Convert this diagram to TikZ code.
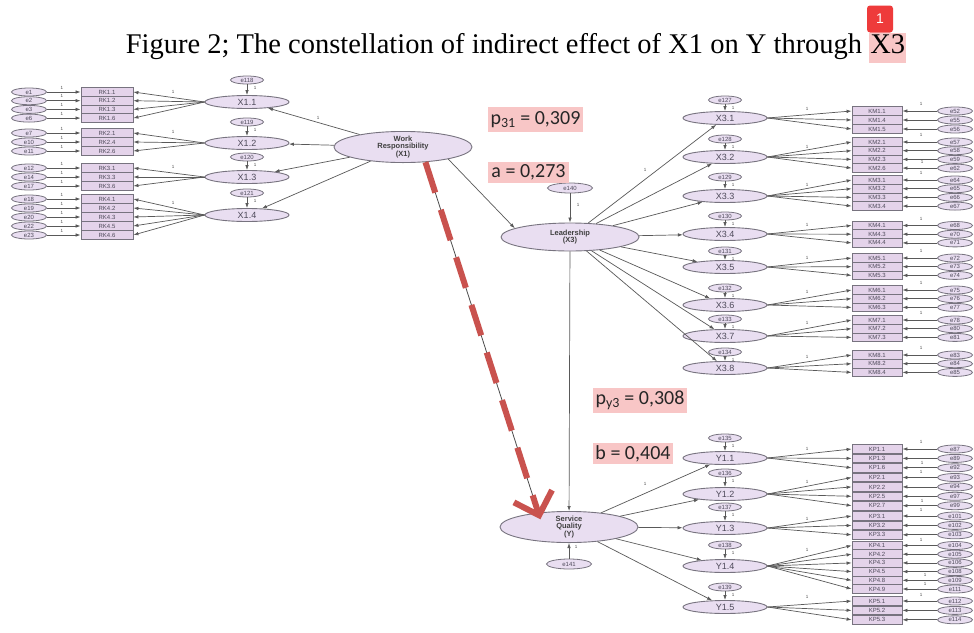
\documentclass[tikz,border=0pt]{standalone}
\usepackage{fontspec}
\setmainfont{Liberation Serif}
\setsansfont{Liberation Sans}
\newfontfamily\calib{Carlito}
\usetikzlibrary{shapes.geometric,arrows.meta,calc}
\definecolor{lavfill}{HTML}{E9DEF1}
\definecolor{boxfill}{HTML}{E4D3EA}
\definecolor{edgegray}{HTML}{77737F}
\definecolor{txtgray}{HTML}{4E4A5A}
\definecolor{pinkhl}{HTML}{F8C6C6}
\definecolor{reddash}{HTML}{C9524E}
\definecolor{badge}{HTML}{EE3B3B}
\newcommand\sz[1]{\fontsize{#1}{#1}\selectfont}
\tikzset{
 lat/.style={ellipse, draw=edgegray, line width=0.9pt, fill=lavfill, inner sep=0pt, minimum width=84pt, minimum height=13pt, font=\sffamily\sz{9}, text=txtgray},
 big/.style={lat, minimum width=138pt, minimum height=29pt, font=\sffamily\bfseries\sz{7.5}, text=black!75, align=center},
 errs/.style={ellipse, draw=edgegray, line width=0.8pt, fill=lavfill, inner sep=0pt, minimum width=35pt, minimum height=8pt, font=\sffamily\sz{6}, text=txtgray},
 errl/.style={errs, minimum width=33pt, minimum height=8pt},
 obs/.style={rectangle, draw=edgegray, line width=0.8pt, fill=boxfill, inner sep=0pt, minimum width=50pt, minimum height=8.7pt, font=\sffamily\sz{6}, text=txtgray},
 arr/.style={draw=black!65, line width=0.7pt, -{Latex[length=5pt,width=3.5pt]}},
 one/.style={font=\sffamily\sz{4.5}, text=black!70, inner sep=0pt},
 hl/.style={fill=pinkhl, inner sep=2pt, font=\calib\sz{20}, text=black!85},
}
% left block
\newcommand\latL[5]{\node[lat] (#1) at (247,#3) {#2};
 \node[errl] (n#4) at (247,#5) {#4};
 \draw[arr] (n#4) -- (#1);
 \node[one] at (255,#5+8) {1};}
\newcommand\rowL[5]{\node[obs, minimum width=52pt] (#2) at (107,#4) {#3};
 \node[errs] (n#5) at (29,#4) {#5};
 \draw[arr] (n#5) -- (#2);
 \draw[arr] (#1.west) -- (#2.east);
 \node[one] at (62,#4-4.5) {1};}
% right blocks
\newcommand\latR[5]{\node[lat] (#1) at (725,#3) {#2};
 \node[errl] (n#4) at (725,#5) {#4};
 \draw[arr] (n#4) -- (#1);
 \node[one] at (733,#5+8) {1};}
\newcommand\rowR[5]{\node[obs] (#2) at (877,#4) {#3};
 \node[errs] (n#5) at (955,#4) {#5};
 \draw[arr] (n#5) -- (#2);
 \draw[arr] (#1.east) -- (#2.west);}
\begin{document}
\begin{tikzpicture}[x=1pt,y=-1pt]
\useasboundingbox (0,0) rectangle (974,632);
\fill[white] (0,0) rectangle (974,632);
% title
\node[font=\sz{28.5}, inner sep=0pt] (title) at (516,48) {Figure 2; The constellation of indirect effect of X1 on Y through {\setlength\fboxsep{1pt}\colorbox{pinkhl}{\strut X3}}};
\node[fill=badge, rounded corners=3pt, minimum width=26pt, minimum height=27pt, inner sep=0pt, text=white, font=\sffamily\sz{14}] (badge) at (880,19) {1};
% main latents
\node[big] (X1) at (403,147) {Work\\Responsibility\\(X1)};
\node[big, minimum height=28pt] (L) at (570,237) {Leadership\\(X3)};
\node[big, minimum height=28pt] (Y) at (569,527) {Service\\Quality\\(Y)};
\node[errs, minimum width=45pt, minimum height=10pt] (e140) at (570,188) {e140};
\node[errs, minimum width=45pt, minimum height=10pt] (e141) at (569,564) {e141};
\draw[arr] (e140) -- (L);
\draw[arr] (e141) -- (Y);
\node[one] at (578,205) {1};
\node[one] at (576,547) {1};
% left block
\latL{X11}{X1.1}{102}{e118}{80}
\rowL{X11}{rk11}{RK1.1}{92}{e1}
\rowL{X11}{rk12}{RK1.2}{100.7}{e2}
\rowL{X11}{rk13}{RK1.3}{109.4}{e3}
\rowL{X11}{rk16}{RK1.6}{118.1}{e6}
\latL{X12}{X1.2}{143}{e119}{122}
\rowL{X12}{rk21}{RK2.1}{133}{e7}
\rowL{X12}{rk24}{RK2.4}{142}{e10}
\rowL{X12}{rk26}{RK2.6}{151}{e11}
\latL{X13}{X1.3}{177}{e120}{157}
\rowL{X13}{rk31}{RK3.1}{168}{e12}
\rowL{X13}{rk33}{RK3.3}{177}{e14}
\rowL{X13}{rk36}{RK3.6}{186}{e17}
\latL{X14}{X1.4}{215}{e121}{193}
\rowL{X14}{rk41}{RK4.1}{199}{e18}
\rowL{X14}{rk42}{RK4.2}{208}{e19}
\rowL{X14}{rk43}{RK4.3}{217}{e20}
\rowL{X14}{rk45}{RK4.5}{226}{e22}
\rowL{X14}{rk46}{RK4.6}{235}{e23}
\foreach \yy in {92,132,167,203} {\node[one] at (173,\yy) {1};}
\draw[arr] (X1) -- (X11);
\draw[arr] (X1) -- (X12);
\draw[arr] (X1) -- (X13);
\draw[arr] (X1) -- (X14);
\node[one] at (318,118) {1};
% X3 block
\latR{X31}{X3.1}{118}{e127}{100}
\rowR{X31}{km11}{KM1.1}{111}{e52}
\rowR{X31}{km14}{KM1.4}{120}{e55}
\rowR{X31}{km15}{KM1.5}{129}{e56}
\latR{X32}{X3.2}{157}{e128}{139}
\rowR{X32}{km21}{KM2.1}{142}{e57}
\rowR{X32}{km22}{KM2.2}{150.7}{e58}
\rowR{X32}{km23}{KM2.3}{159.4}{e59}
\rowR{X32}{km26}{KM2.6}{168.1}{e62}
\latR{X33}{X3.3}{196}{e129}{177}
\rowR{X33}{km31}{KM3.1}{180}{e64}
\rowR{X33}{km32}{KM3.2}{188.7}{e65}
\rowR{X33}{km33}{KM3.3}{197.4}{e66}
\rowR{X33}{km34}{KM3.4}{206.1}{e67}
\latR{X34}{X3.4}{234}{e130}{216}
\rowR{X34}{km41}{KM4.1}{225.5}{e68}
\rowR{X34}{km43}{KM4.3}{234.2}{e70}
\rowR{X34}{km44}{KM4.4}{242.9}{e71}
\latR{X35}{X3.5}{267}{e131}{251}
\rowR{X35}{km51}{KM5.1}{258}{e72}
\rowR{X35}{km52}{KM5.2}{266.7}{e73}
\rowR{X35}{km53}{KM5.3}{275.4}{e74}
\latR{X36}{X3.6}{305}{e132}{288}
\rowR{X36}{km61}{KM6.1}{290}{e75}
\rowR{X36}{km62}{KM6.2}{298.7}{e76}
\rowR{X36}{km63}{KM6.3}{307.4}{e77}
\latR{X37}{X3.7}{336}{e133}{319}
\rowR{X37}{km71}{KM7.1}{320}{e78}
\rowR{X37}{km72}{KM7.2}{328.7}{e80}
\rowR{X37}{km73}{KM7.3}{337.4}{e81}
\latR{X38}{X3.8}{368}{e134}{352}
\rowR{X38}{km81}{KM8.1}{355}{e83}
\rowR{X38}{km82}{KM8.2}{363.7}{e84}
\rowR{X38}{km84}{KM8.4}{372.4}{e85}
\foreach \k in {1,...,8} {\draw[arr] (L) -- (X3\k);}
\node[one] at (645,170) {1};
\foreach \yy in {109,147,185,225,258,292,323,357} {\node[one] at (807,\yy) {1};}
\foreach \yy in {104,135,173,219,251,283,313,348} {\node[one] at (921,\yy) {1};}
\node[one] at (922,162) {1};
% Y block
\latR{Y11}{Y1.1}{458}{e135}{438}
\rowR{Y11}{kp11}{KP1.1}{449}{e87}
\rowR{Y11}{kp13}{KP1.3}{458.4}{e89}
\rowR{Y11}{kp16}{KP1.6}{467.8}{e92}
\latR{Y12}{Y1.2}{494}{e136}{473}
\rowR{Y12}{kp21}{KP2.1}{477.5}{e93}
\rowR{Y12}{kp22}{KP2.2}{486.9}{e94}
\rowR{Y12}{kp25}{KP2.5}{496.3}{e97}
\rowR{Y12}{kp27}{KP2.7}{505.7}{e99}
\latR{Y13}{Y1.3}{528}{e137}{507}
\rowR{Y13}{kp31}{KP3.1}{516}{e101}
\rowR{Y13}{kp32}{KP3.2}{525.4}{e102}
\rowR{Y13}{kp33}{KP3.3}{534.8}{e103}
\latR{Y14}{Y1.4}{566}{e138}{545}
\rowR{Y14}{kp41}{KP4.1}{545.5}{e104}
\rowR{Y14}{kp42}{KP4.2}{554.2}{e105}
\rowR{Y14}{kp43}{KP4.3}{562.9}{e106}
\rowR{Y14}{kp45}{KP4.5}{571.6}{e108}
\rowR{Y14}{kp48}{KP4.8}{580.3}{e109}
\rowR{Y14}{kp49}{KP4.9}{589}{e111}
\latR{Y15}{Y1.5}{607}{e139}{587}
\rowR{Y15}{kp51}{KP5.1}{601}{e112}
\rowR{Y15}{kp52}{KP5.2}{610.4}{e113}
\rowR{Y15}{kp53}{KP5.3}{619.8}{e114}
\foreach \k in {1,...,5} {\draw[arr] (Y) -- (Y1\k);}
\node[one] at (645,484) {1};
\foreach \yy in {449,482,519,550,597} {\node[one] at (807,\yy) {1};}
\foreach \yy in {442,472,510,540,595} {\node[one] at (921,\yy) {1};}
\node[one] at (922,463) {1};
\node[one] at (922,501) {1};
\node[one] at (925,575) {1};
\node[one] at (925,584) {1};
% structural paths
\draw[arr] (X1.-15) -- (L.171);
\draw[arr] (L) -- (Y);
\draw[draw=black!70, line width=0.8pt] (X1.-34) -- (Y.155);
\draw[draw=reddash, line width=6pt, dash pattern=on 32pt off 18pt, shorten >=-7pt, -{Straight Barb[length=20pt,width=40pt]}] (X1.-34) -- (Y.155);
% coefficient labels
\node[hl, minimum width=95pt, minimum height=25pt] (p31) at (535.5,119.5) {p\textsubscript{31} = 0,309};
\node[hl, minimum width=81pt, minimum height=21pt] (pa) at (528.5,172.5) {a = 0,273};
\node[hl, minimum width=94pt, minimum height=25pt] (py3) at (640,400.5) {p\textsubscript{y3} = 0,308};
\node[hl, minimum width=80pt, minimum height=21pt] (pb) at (633,453.5) {b = 0,404};
\end{tikzpicture}
\end{document}
